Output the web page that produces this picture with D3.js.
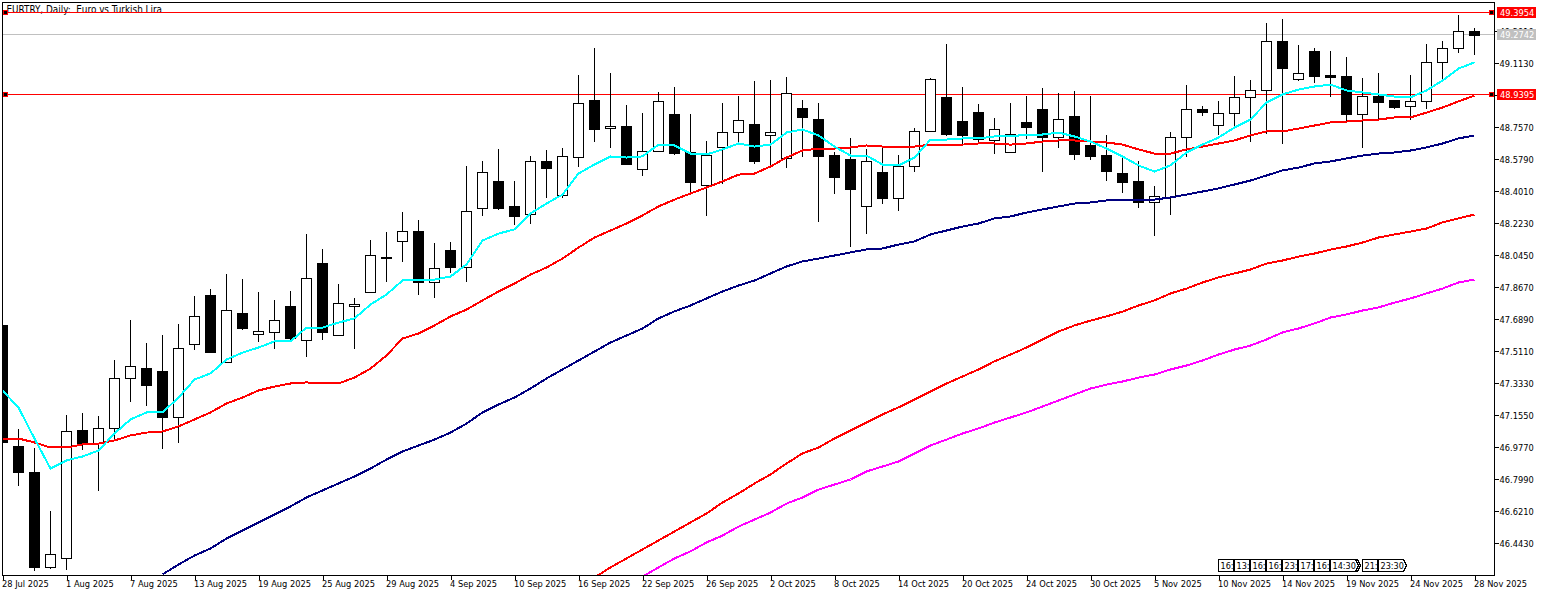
<!DOCTYPE html>
<html><head><meta charset="utf-8">
<script src="https://cdn.jsdelivr.net/npm/d3@7"></script>
<style>
html,body{margin:0;padding:0;background:#fff;overflow:hidden}
svg{display:block}
text{font-family:"DejaVu Sans Condensed","DejaVu Sans",sans-serif;font-stretch:condensed;font-size:9.2px;fill:#000}
</style></head><body>
<svg id="c" width="1547" height="596"></svg>
<script>
const title = "EURTRY, Daily:  Euro vs Turkish Lira";
const dates = ["28 Jul 2025","29 Jul 2025","30 Jul 2025","31 Jul 2025","1 Aug 2025","4 Aug 2025","5 Aug 2025","6 Aug 2025","7 Aug 2025","8 Aug 2025","11 Aug 2025","12 Aug 2025","13 Aug 2025","14 Aug 2025","15 Aug 2025","18 Aug 2025","19 Aug 2025","20 Aug 2025","21 Aug 2025","22 Aug 2025","25 Aug 2025","26 Aug 2025","27 Aug 2025","28 Aug 2025","29 Aug 2025","1 Sep 2025","2 Sep 2025","3 Sep 2025","4 Sep 2025","5 Sep 2025","8 Sep 2025","9 Sep 2025","10 Sep 2025","11 Sep 2025","12 Sep 2025","15 Sep 2025","16 Sep 2025","17 Sep 2025","18 Sep 2025","19 Sep 2025","22 Sep 2025","23 Sep 2025","24 Sep 2025","25 Sep 2025","26 Sep 2025","29 Sep 2025","30 Sep 2025","1 Oct 2025","2 Oct 2025","3 Oct 2025","6 Oct 2025","7 Oct 2025","8 Oct 2025","9 Oct 2025","10 Oct 2025","13 Oct 2025","14 Oct 2025","15 Oct 2025","16 Oct 2025","17 Oct 2025","20 Oct 2025","21 Oct 2025","22 Oct 2025","23 Oct 2025","24 Oct 2025","27 Oct 2025","28 Oct 2025","29 Oct 2025","30 Oct 2025","31 Oct 2025","3 Nov 2025","4 Nov 2025","5 Nov 2025","6 Nov 2025","7 Nov 2025","9 Nov 2025","10 Nov 2025","11 Nov 2025","12 Nov 2025","13 Nov 2025","14 Nov 2025","16 Nov 2025","17 Nov 2025","18 Nov 2025","19 Nov 2025","20 Nov 2025","21 Nov 2025","23 Nov 2025","24 Nov 2025","25 Nov 2025","26 Nov 2025","27 Nov 2025","28 Nov 2025"];
const dateTicks = ["28 Jul 2025","1 Aug 2025","7 Aug 2025","13 Aug 2025","19 Aug 2025","25 Aug 2025","29 Aug 2025","4 Sep 2025","10 Sep 2025","16 Sep 2025","22 Sep 2025","26 Sep 2025","2 Oct 2025","8 Oct 2025","14 Oct 2025","20 Oct 2025","24 Oct 2025","30 Oct 2025","5 Nov 2025","10 Nov 2025","14 Nov 2025","19 Nov 2025","24 Nov 2025","28 Nov 2025"];
const priceTicks = [49.291,49.113,48.935,48.757,48.579,48.401,48.223,48.045,47.867,47.689,47.511,47.333,47.155,46.977,46.799,46.621,46.443];

const highs = [47.6556,47.0827,46.9770,46.6265,47.1605,47.1717,47.1550,47.4664,47.6889,47.5611,47.6055,47.6667,47.8225,47.8614,47.9448,47.9170,47.8447,47.8002,47.8503,48.1673,48.0839,47.8892,47.8114,48.1339,48.1784,48.2897,48.2452,48.1173,48.1228,48.5456,48.5734,48.6402,48.4622,48.6012,48.6346,48.6458,49.0517,49.2020,49.0629,48.8849,48.8404,48.9572,48.9850,48.8348,48.6847,48.8961,48.9350,49.0184,49.0239,49.0406,48.9127,48.8961,48.6234,48.7014,48.6402,48.6458,48.6067,48.7570,49.0351,49.2242,48.9850,48.8905,48.8126,48.8961,48.9350,48.9795,48.9517,48.9628,48.9350,48.7180,48.5901,48.5734,48.4344,48.7347,48.9961,48.8794,48.9072,49.0462,49.0239,49.3411,49.3633,49.2186,49.2020,49.1853,49.1519,49.0351,49.0629,48.9127,49.0517,49.2242,49.2409,49.3855,49.3133];
const lows = [47.0048,46.7656,46.2928,46.3039,46.2983,46.9658,46.7378,47.0214,47.2328,47.2106,46.9714,47.0048,47.5221,47.5054,47.4498,47.6333,47.5666,47.5277,47.5777,47.4831,47.5777,47.6000,47.5277,47.8392,47.9003,48.0116,47.8280,47.8114,47.9504,47.9003,48.2675,48.3008,48.2174,48.2230,48.3676,48.3676,48.5400,48.6791,48.6458,48.5511,48.4900,48.6234,48.6067,48.3898,48.2675,48.4455,48.6680,48.5567,48.5456,48.5345,48.5956,48.2341,48.3898,48.0950,48.1673,48.3342,48.2953,48.5122,48.7347,48.7125,48.6680,48.6736,48.6123,48.6179,48.6958,48.5122,48.6458,48.5789,48.5789,48.4622,48.3954,48.3120,48.1562,48.2730,48.5956,48.8237,48.7180,48.7625,48.6791,48.7236,48.6680,49.0184,49.0073,48.9294,48.7959,48.6458,48.8014,48.8627,48.8014,48.8627,49.0239,49.1742,49.1630];
const opens = [47.6556,46.9825,46.8379,46.3095,46.3595,47.0715,46.9992,47.0827,47.3608,47.4164,47.3997,47.1439,47.5499,47.8225,47.4498,47.7223,47.6055,47.6167,47.7613,47.5722,48.0005,47.6000,47.7613,47.8392,48.0339,48.1228,48.1784,47.8948,48.0728,47.9783,48.3064,48.4566,48.3175,48.2730,48.5678,48.3787,48.5901,48.9072,48.7514,48.7625,48.5233,48.6234,48.8292,48.6179,48.4344,48.6458,48.7292,48.7736,48.7125,48.5845,48.8627,48.8014,48.6012,48.5789,48.3175,48.5067,48.3620,48.5400,48.7347,48.9239,48.7903,48.8404,48.6847,48.6179,48.7848,48.8571,48.7014,48.8181,48.6569,48.6012,48.5011,48.4566,48.3398,48.3676,48.7014,48.8571,48.7681,48.8348,48.9239,48.9628,49.2353,49.0239,49.1797,49.0462,49.0406,48.8292,48.9294,48.9072,48.8738,48.9016,49.1186,49.1964,49.2909];
const closes = [47.0048,46.8379,46.3095,46.3817,47.0659,46.9992,47.0827,47.3608,47.4275,47.3219,47.1439,47.5277,47.7056,47.5054,47.7390,47.6389,47.6222,47.6834,47.5833,47.9170,47.6167,47.7780,47.7724,48.0450,48.0283,48.1784,47.8948,47.9727,47.9783,48.2897,48.5067,48.3064,48.2619,48.5678,48.5289,48.5956,48.8905,48.7458,48.7625,48.5511,48.6234,48.9016,48.6123,48.4511,48.6012,48.7292,48.7959,48.5678,48.7292,48.9461,48.8126,48.5956,48.4789,48.4121,48.5678,48.3620,48.5400,48.7347,49.0239,48.7180,48.7125,48.6902,48.7458,48.7180,48.7570,48.7014,48.8014,48.6067,48.5956,48.5122,48.4511,48.3398,48.3731,48.7014,48.8571,48.8404,48.8348,48.9239,48.9628,49.2353,49.0852,49.0573,49.0406,49.0351,48.8292,48.9294,48.8961,48.8683,48.9016,49.1186,49.1964,49.2909,49.2687];

const maCyan = [47.294,47.199,47.027,46.860,46.905,46.927,46.960,47.055,47.133,47.172,47.172,47.255,47.355,47.389,47.466,47.505,47.533,47.567,47.567,47.644,47.644,47.672,47.695,47.772,47.828,47.906,47.906,47.911,47.928,47.995,48.128,48.167,48.190,48.279,48.334,48.384,48.501,48.551,48.596,48.590,48.596,48.662,48.657,48.612,48.607,48.635,48.668,48.651,48.662,48.729,48.746,48.713,48.651,48.601,48.601,48.551,48.546,48.590,48.690,48.690,48.696,48.696,48.707,48.707,48.718,48.718,48.729,48.707,48.679,48.640,48.596,48.546,48.512,48.546,48.618,48.662,48.701,48.757,48.801,48.896,48.941,48.968,48.985,48.996,48.963,48.952,48.941,48.929,48.924,48.963,49.018,49.085,49.119];
const maRed = [47.027,47.027,47.005,46.977,46.977,46.994,46.999,47.016,47.044,47.060,47.066,47.094,47.133,47.172,47.222,47.255,47.294,47.316,47.333,47.339,47.333,47.333,47.366,47.416,47.489,47.583,47.611,47.656,47.706,47.744,47.795,47.845,47.889,47.939,47.978,48.028,48.089,48.145,48.184,48.223,48.268,48.318,48.356,48.390,48.423,48.457,48.495,48.501,48.540,48.590,48.629,48.640,48.640,48.646,48.657,48.651,48.651,48.651,48.662,48.662,48.662,48.668,48.668,48.662,48.668,48.679,48.685,48.685,48.679,48.674,48.662,48.635,48.612,48.612,48.635,48.651,48.668,48.685,48.713,48.735,48.735,48.751,48.768,48.785,48.790,48.796,48.801,48.813,48.813,48.840,48.868,48.902,48.935];
const maNavy = [46.271,46.326,46.376,46.415,46.471,46.515,46.560,46.604,46.649,46.699,46.738,46.777,46.816,46.860,46.910,46.955,46.988,47.021,47.060,47.110,47.172,47.216,47.255,47.305,47.361,47.411,47.461,47.511,47.561,47.600,47.639,47.695,47.734,47.767,47.806,47.845,47.878,47.906,47.945,47.984,48.012,48.028,48.045,48.062,48.079,48.084,48.106,48.123,48.162,48.184,48.206,48.223,48.251,48.262,48.284,48.301,48.318,48.334,48.340,48.351,48.351,48.351,48.356,48.368,48.384,48.401,48.418,48.440,48.462,48.490,48.518,48.534,48.557,48.568,48.585,48.601,48.612,48.618,48.629,48.646,48.668,48.696,48.713];
const maRedLong = [46.254,46.310,46.360,46.410,46.460,46.510,46.560,46.610,46.671,46.721,46.777,46.827,46.888,46.944,46.977,47.027,47.072,47.116,47.161,47.200,47.244,47.289,47.333,47.372,47.411,47.456,47.494,47.533,47.578,47.622,47.656,47.683,47.706,47.733,47.767,47.795,47.834,47.861,47.895,47.923,47.945,47.967,48.000,48.017,48.039,48.056,48.078,48.095,48.117,48.145,48.162,48.178,48.195,48.229,48.251,48.273];
const maMagenta = [46.259,46.310,46.360,46.399,46.449,46.487,46.537,46.576,46.615,46.665,46.699,46.743,46.771,46.799,46.844,46.871,46.899,46.944,46.988,47.021,47.055,47.083,47.116,47.144,47.172,47.205,47.238,47.272,47.305,47.327,47.344,47.366,47.383,47.411,47.433,47.461,47.494,47.522,47.544,47.578,47.617,47.639,47.667,47.700,47.717,47.739,47.756,47.783,47.806,47.834,47.861,47.895,47.911];

const hLines = [49.3954,48.9395];
const bidLine = 49.2742;
const eventDates = ["10 Nov 2025","11 Nov 2025","12 Nov 2025","13 Nov 2025","14 Nov 2025","16 Nov 2025","17 Nov 2025","19 Nov 2025","18 Nov 2025","20 Nov 2025","21 Nov 2025"];
const eventLabels = ["16:","13:","16:","16:","23:","17:","16:","","14:30","21:","23:30"];

const L=2.5,R=1494.5,T=2.5,B=575.5;
const svg=d3.select("#c");
const x=d3.scalePoint().domain(dates).range([2,1474]);
const y=d3.scaleLinear().domain([46.265,49.4523]).range([575,2]);
const py=v=>Math.round(y(v))+0.5;
const px=d=>x(d)+0.5;

const defs=svg.append("defs");
defs.append("clipPath").attr("id","plot").append("rect").attr("x",L).attr("y",T).attr("width",R-L).attr("height",B-T);

/* title */
svg.append("text").attr("x",6.5).attr("y",12.5).style("font-size","9.85px").style("white-space","pre").text(title);

const plot=svg.append("g").attr("clip-path","url(#plot)");

/* horizontal price lines */
plot.selectAll("line.h").data(hLines).join("line").attr("class","h")
  .attr("x1",L).attr("x2",R).attr("y1",py).attr("y2",py)
  .attr("stroke","#f00").attr("shape-rendering","crispEdges");
plot.append("line").attr("x1",L).attr("x2",R).attr("y1",py(bidLine)).attr("y2",py(bidLine))
  .attr("stroke","#c0c0c0").attr("shape-rendering","crispEdges");

/* candles */
const candles=dates.map((d,i)=>({d,o:opens[i],h:highs[i],l:lows[i],c:closes[i]}));
const gc=plot.append("g").attr("shape-rendering","crispEdges");
gc.selectAll("line").data(candles).join("line")
  .attr("x1",d=>px(d.d)).attr("x2",d=>px(d.d))
  .attr("y1",d=>py(d.h)).attr("y2",d=>py(d.l)).attr("stroke","#000");
gc.selectAll("rect").data(candles).join("rect")
  .attr("x",d=>px(d.d)-5).attr("width",10)
  .attr("y",d=>py(Math.max(d.o,d.c)))
  .attr("height",d=>Math.max(1,py(Math.min(d.o,d.c))-py(Math.max(d.o,d.c))))
  .attr("fill",d=>d.c>=d.o?"#fff":"#000").attr("stroke","#000");

/* moving averages */
function ma(vals,color){
  const off=dates.length-vals.length;
  const line=d3.line().x((v,i)=>x(dates[i+off])+0.5).y(v=>y(v)+0.5).curve(d3.curveLinear);
  plot.append("path").datum(vals).attr("d",line).attr("fill","none").attr("stroke",color)
    .attr("stroke-width",2).attr("shape-rendering","crispEdges");
}
ma(maMagenta,"#ff00ff");
ma(maRedLong,"#ff0000");
ma(maNavy,"#000080");
ma(maRed,"#ff0000");
ma(maCyan,"#00ffff");

/* event boxes */
const evs=eventDates.map((d,i)=>({d,t:eventLabels[i]}));
const gEv=svg.append("g").selectAll("g").data(evs).join("g").attr("transform",d=>`translate(${x(d.d)+0.5},559.5)`);
gEv.append("path").attr("d",d=>{
  if(d.t.length>3) return "M0,0H25L28,6L25,12H0Z";
  if(d.t==="") return "M0,0H11L14,6L11,12H0Z";
  return "M0,0H15V12H0Z";
}).attr("fill","#fff").attr("stroke","#000").attr("shape-rendering","crispEdges");
gEv.append("text").attr("x",2).attr("y",9.5).text(d=>d.t).style("font-size","9px");

/* axes */
const yAxis=d3.axisRight(y).tickValues(priceTicks).tickFormat(d3.format(".4f")).tickSize(4).tickPadding(1);
const gy=svg.append("g").attr("transform",`translate(${R},0.5)`).call(yAxis);
gy.select(".domain").remove();
gy.selectAll("line").attr("shape-rendering","crispEdges").attr("stroke","#000");
gy.selectAll("text").style("font-size","9.2px").style("fill","#000");

const xAxis=d3.axisBottom(x).tickValues(dateTicks).tickSize(4).tickPadding(1).tickSizeOuter(0);
const gx=svg.append("g").attr("transform",`translate(0.5,${B})`).call(xAxis);
gx.select(".domain").remove();
gx.selectAll("line").attr("shape-rendering","crispEdges").attr("stroke","#000");
gx.selectAll("text").style("font-size","9.2px").style("fill","#000").attr("text-anchor","start").attr("dx",-1);
[gx,gy].forEach(g=>g.attr("font-family",null).attr("font-size",null));

/* frame */
svg.append("rect").attr("x",L).attr("y",T).attr("width",R-L).attr("height",B-T)
  .attr("fill","none").attr("stroke","#000").attr("shape-rendering","crispEdges");

/* price flags */
const flag=(v,bg)=>{
  const cy=py(v);
  svg.append("rect").attr("x",1497).attr("y",cy-5.5).attr("width",39).attr("height",11).attr("fill",bg).attr("shape-rendering","crispEdges");
  svg.append("text").attr("x",1500).attr("y",cy+3.5).text(v.toFixed(4)).style("fill","#fff");
};
flag(bidLine,"#c0c0c0");
hLines.forEach(v=>flag(v,"#f00"));

/* anchor squares */
hLines.forEach(v=>{
  const cy=py(v);
  [3.5,1489.5].forEach(mx=>{
    svg.append("rect").attr("x",mx).attr("y",cy-2).attr("width",4).attr("height",4)
      .attr("fill","#000").attr("stroke","#f00").attr("shape-rendering","crispEdges");
  });
});
</script>
</body></html>
